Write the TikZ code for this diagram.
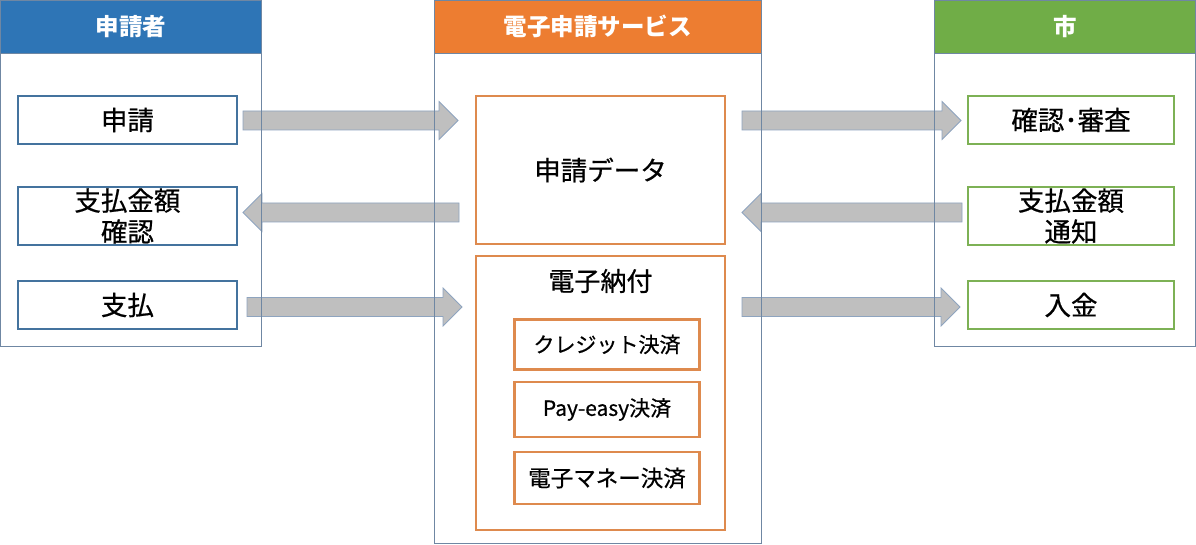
\documentclass[tikz,border=0pt]{standalone}
\usepackage{fontspec}
\setmainfont{Noto Sans CJK JP}
\newfontfamily\jpmed[FakeBold=0.6]{Noto Sans CJK JP}
\definecolor{hdrblue}{HTML}{2E75B6}
\definecolor{hdrorange}{HTML}{ED7D31}
\definecolor{hdrgreen}{HTML}{70AD47}
\definecolor{colline}{HTML}{6F87A3}
\definecolor{boxblue}{HTML}{44739E}
\definecolor{boxorange}{HTML}{DE8A4E}
\definecolor{boxgreen}{HTML}{7DB155}
\definecolor{arrowfill}{HTML}{BFBFBF}
\definecolor{arrowline}{HTML}{8EA4BF}
\begin{document}
\begin{tikzpicture}[x=1pt,y=-1pt,
  colframe/.style={draw=colline,line width=0.9pt},
  hdr/.style={anchor=north west,inner sep=0pt,outer sep=0pt,draw=colline,line width=0.9pt,
    text=white,font=\fontsize{23.5}{26}\selectfont\bfseries},
  ibox/.style={draw,line width=2.6pt,fill=white,inner sep=0pt,align=center,
    font=\jpmed\fontsize{26.5}{31}\selectfont},
  bluebox/.style={ibox,draw=boxblue},
  greenbox/.style={ibox,draw=boxgreen},
  orangebox/.style={ibox,draw=boxorange},
  subbox/.style={ibox,draw=boxorange,font=\jpmed\fontsize{21}{25}\selectfont},
  blockarrow/.style={fill=arrowfill,draw=arrowline,line width=0.8pt,line join=miter}
]
\useasboundingbox (0,0) rectangle (1196,545);
\fill[white] (0,0) rectangle (1196,545);

% column backgrounds
\fill[white] (0.5,0.5) rectangle (261,346);
\fill[white] (434.5,0.5) rectangle (761,543.5);
\fill[white] (934.5,0.5) rectangle (1195.5,346);

% block arrows (drawn under the column frames)
\newcommand\rarrow[3]{%
 \draw[blockarrow] (#1,#3-9.5) -- (#2-19,#3-9.5) -- (#2-19,#3-19) -- (#2,#3)
   -- (#2-19,#3+19) -- (#2-19,#3+9.5) -- (#1,#3+9.5) -- cycle;}
\newcommand\larrow[3]{%
 \draw[blockarrow] (#2,#3-9.5) -- (#1+19,#3-9.5) -- (#1+19,#3-19) -- (#1,#3)
   -- (#1+19,#3+19) -- (#1+19,#3+9.5) -- (#2,#3+9.5) -- cycle;}
\rarrow{243}{458}{120.5}
\larrow{243}{459}{212.5}
\rarrow{247}{462}{307}
\rarrow{742}{961}{120.5}
\larrow{742}{962}{212.5}
\rarrow{742}{960}{307}

% column frames
\draw[colframe] (0.5,0.5) rectangle (261,346);
\draw[colframe] (434.5,0.5) rectangle (761,543.5);
\draw[colframe] (934.5,0.5) rectangle (1195.5,346);

% headers
\node[hdr,fill=hdrblue,minimum width=260.5pt,minimum height=52.5pt] (hA) at (0.5,0.5) {申請者};
\node[hdr,fill=hdrorange,minimum width=326.5pt,minimum height=52.5pt] (hB) at (434.5,0.5) {電子申請サービス};
\node[hdr,fill=hdrgreen,minimum width=261pt,minimum height=52.5pt] (hC) at (934.5,0.5) {市};

% left boxes
\node[bluebox,minimum width=219pt,minimum height=48pt] (a1) at (127.5,120) {申請};
\node[bluebox,minimum width=219pt,minimum height=58pt] (a2) at (127.5,216) {支払金額\\確認};
\node[bluebox,minimum width=219pt,minimum height=48pt] (a3) at (127.5,305) {支払};

% right boxes
\node[greenbox,minimum width=206pt,minimum height=48pt] (c1) at (1071,120) {確認･審査};
\node[greenbox,minimum width=206pt,minimum height=58pt] (c2) at (1071,216) {支払金額\\通知};
\node[greenbox,minimum width=206pt,minimum height=48pt] (c3) at (1071,305) {入金};

% middle boxes
\node[orangebox,minimum width=249pt,minimum height=148pt] (b1) at (600.5,170) {申請データ};
\node[orangebox,minimum width=249pt,minimum height=274pt] (b2) at (600.5,393) {};
\node[font=\jpmed\fontsize{26}{30}\selectfont] (b2t) at (600.5,281) {電子納付};
\node[subbox,minimum width=185pt,minimum height=50pt] (s1) at (607,344.5) {クレジット決済};
\node[subbox,minimum width=185pt,minimum height=55pt] (s2) at (607,409.5) {Pay-easy決済};
\node[subbox,minimum width=185pt,minimum height=52pt,font=\jpmed\fontsize{22.5}{26}\selectfont] (s3) at (607,478) {電子マネー決済};
\end{tikzpicture}
\end{document}
